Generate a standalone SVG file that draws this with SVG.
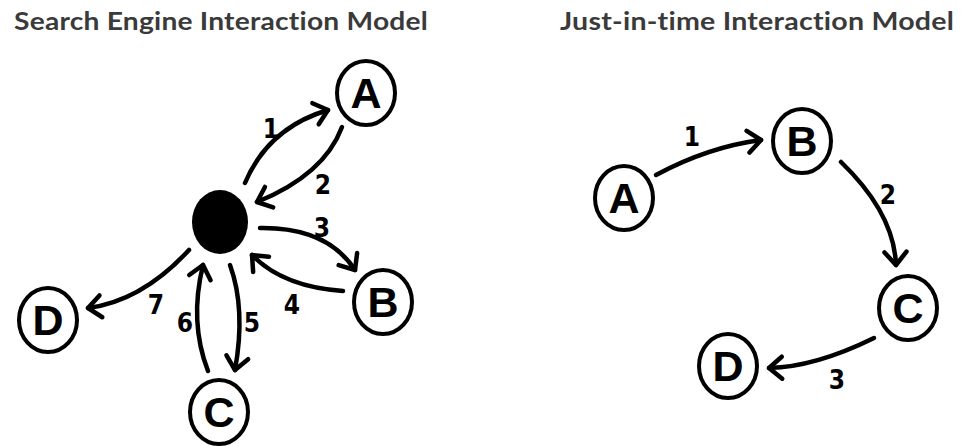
<svg xmlns="http://www.w3.org/2000/svg" width="962" height="446" viewBox="0 0 962 446">
<defs>
<style>
.title{font-family:Lato,"Open Sans",sans-serif;font-weight:bold;font-size:25px;fill:#3a3a3a;letter-spacing:0.2px;font-variant-ligatures:none;font-feature-settings:"liga" 0,"dlig" 0}
.node{fill:#fff;stroke:#000;stroke-width:4}
.lbl{font-family:"Liberation Sans",Arial,sans-serif;font-weight:bold;font-size:43px;text-anchor:middle;fill:#000}
.num{font-family:"DejaVu Sans Condensed","Liberation Sans",Arial,sans-serif;font-weight:bold;font-size:26px;text-anchor:middle;fill:#000}
.edge{fill:none;stroke:#000;stroke-width:4.5;stroke-linecap:round;marker-end:url(#arr)}
</style>
<marker id="arr" markerUnits="userSpaceOnUse" markerWidth="40" markerHeight="40" refX="0" refY="0" viewBox="-20 -20 40 40" orient="auto" overflow="visible">
<path d="M-13,-11 L0,0 L-13,11" fill="none" stroke="#000" stroke-width="4.5" stroke-linecap="round" stroke-linejoin="round"/>
</marker>
</defs>
<rect width="962" height="446" fill="#fff"/>
<text class="title" x="14" y="30" textLength="414" lengthAdjust="spacingAndGlyphs">Search Engine Interaction Model</text>
<text class="title" x="560" y="30" textLength="394" lengthAdjust="spacingAndGlyphs">Just-in-time Interaction Model</text>
<g id="connectors">
<path class="edge" d="M245,183 Q268,128 328,110"/>
<path class="edge" d="M342,127 Q324,175 257,202"/>
<path class="edge" d="M260,228 Q327,227 355,270"/>
<path class="edge" d="M343,291 Q283,287 252,255"/>
<path class="edge" d="M230,265 Q246,309 235,370"/>
<path class="edge" d="M208,371 Q189,322 203,265"/>
<path class="edge" d="M189,250 Q142,301 88,308"/>
<path class="edge" d="M656,175 Q708,147 761,140"/>
<path class="edge" d="M841,162 Q894,213 896,265"/>
<path class="edge" d="M874,338 Q815,367 769,368"/>
<text class="num" x="271" y="138">1</text>
<text class="num" x="323" y="194">2</text>
<text class="num" x="322" y="237">3</text>
<text class="num" x="292" y="314">4</text>
<text class="num" x="252" y="332">5</text>
<text class="num" x="185" y="332">6</text>
<text class="num" x="156" y="314">7</text>
<text class="num" x="692" y="146">1</text>
<text class="num" x="888" y="204">2</text>
<text class="num" x="837" y="389">3</text>
</g>
<g id="hub"><ellipse cx="220" cy="222" rx="28" ry="32" fill="#000"/></g>
<g id="left-A"><ellipse class="node" cx="366" cy="93" rx="29" ry="32"/><text class="lbl" x="366" y="108">A</text></g>
<g id="left-B"><ellipse class="node" cx="383" cy="302" rx="29" ry="32"/><text class="lbl" x="383" y="317">B</text></g>
<g id="left-C"><ellipse class="node" cx="219" cy="412" rx="29" ry="32"/><text class="lbl" x="219" y="427">C</text></g>
<g id="left-D"><ellipse class="node" cx="48" cy="320" rx="29" ry="32"/><text class="lbl" x="48" y="335">D</text></g>
<g id="right-A"><ellipse class="node" cx="624" cy="198" rx="29" ry="32"/><text class="lbl" x="624" y="213">A</text></g>
<g id="right-B"><ellipse class="node" cx="802" cy="141" rx="29" ry="32"/><text class="lbl" x="802" y="156">B</text></g>
<g id="right-C"><ellipse class="node" cx="908" cy="308" rx="29" ry="32"/><text class="lbl" x="908" y="323">C</text></g>
<g id="right-D"><ellipse class="node" cx="728" cy="366" rx="29" ry="32"/><text class="lbl" x="728" y="381">D</text></g>
</svg>
